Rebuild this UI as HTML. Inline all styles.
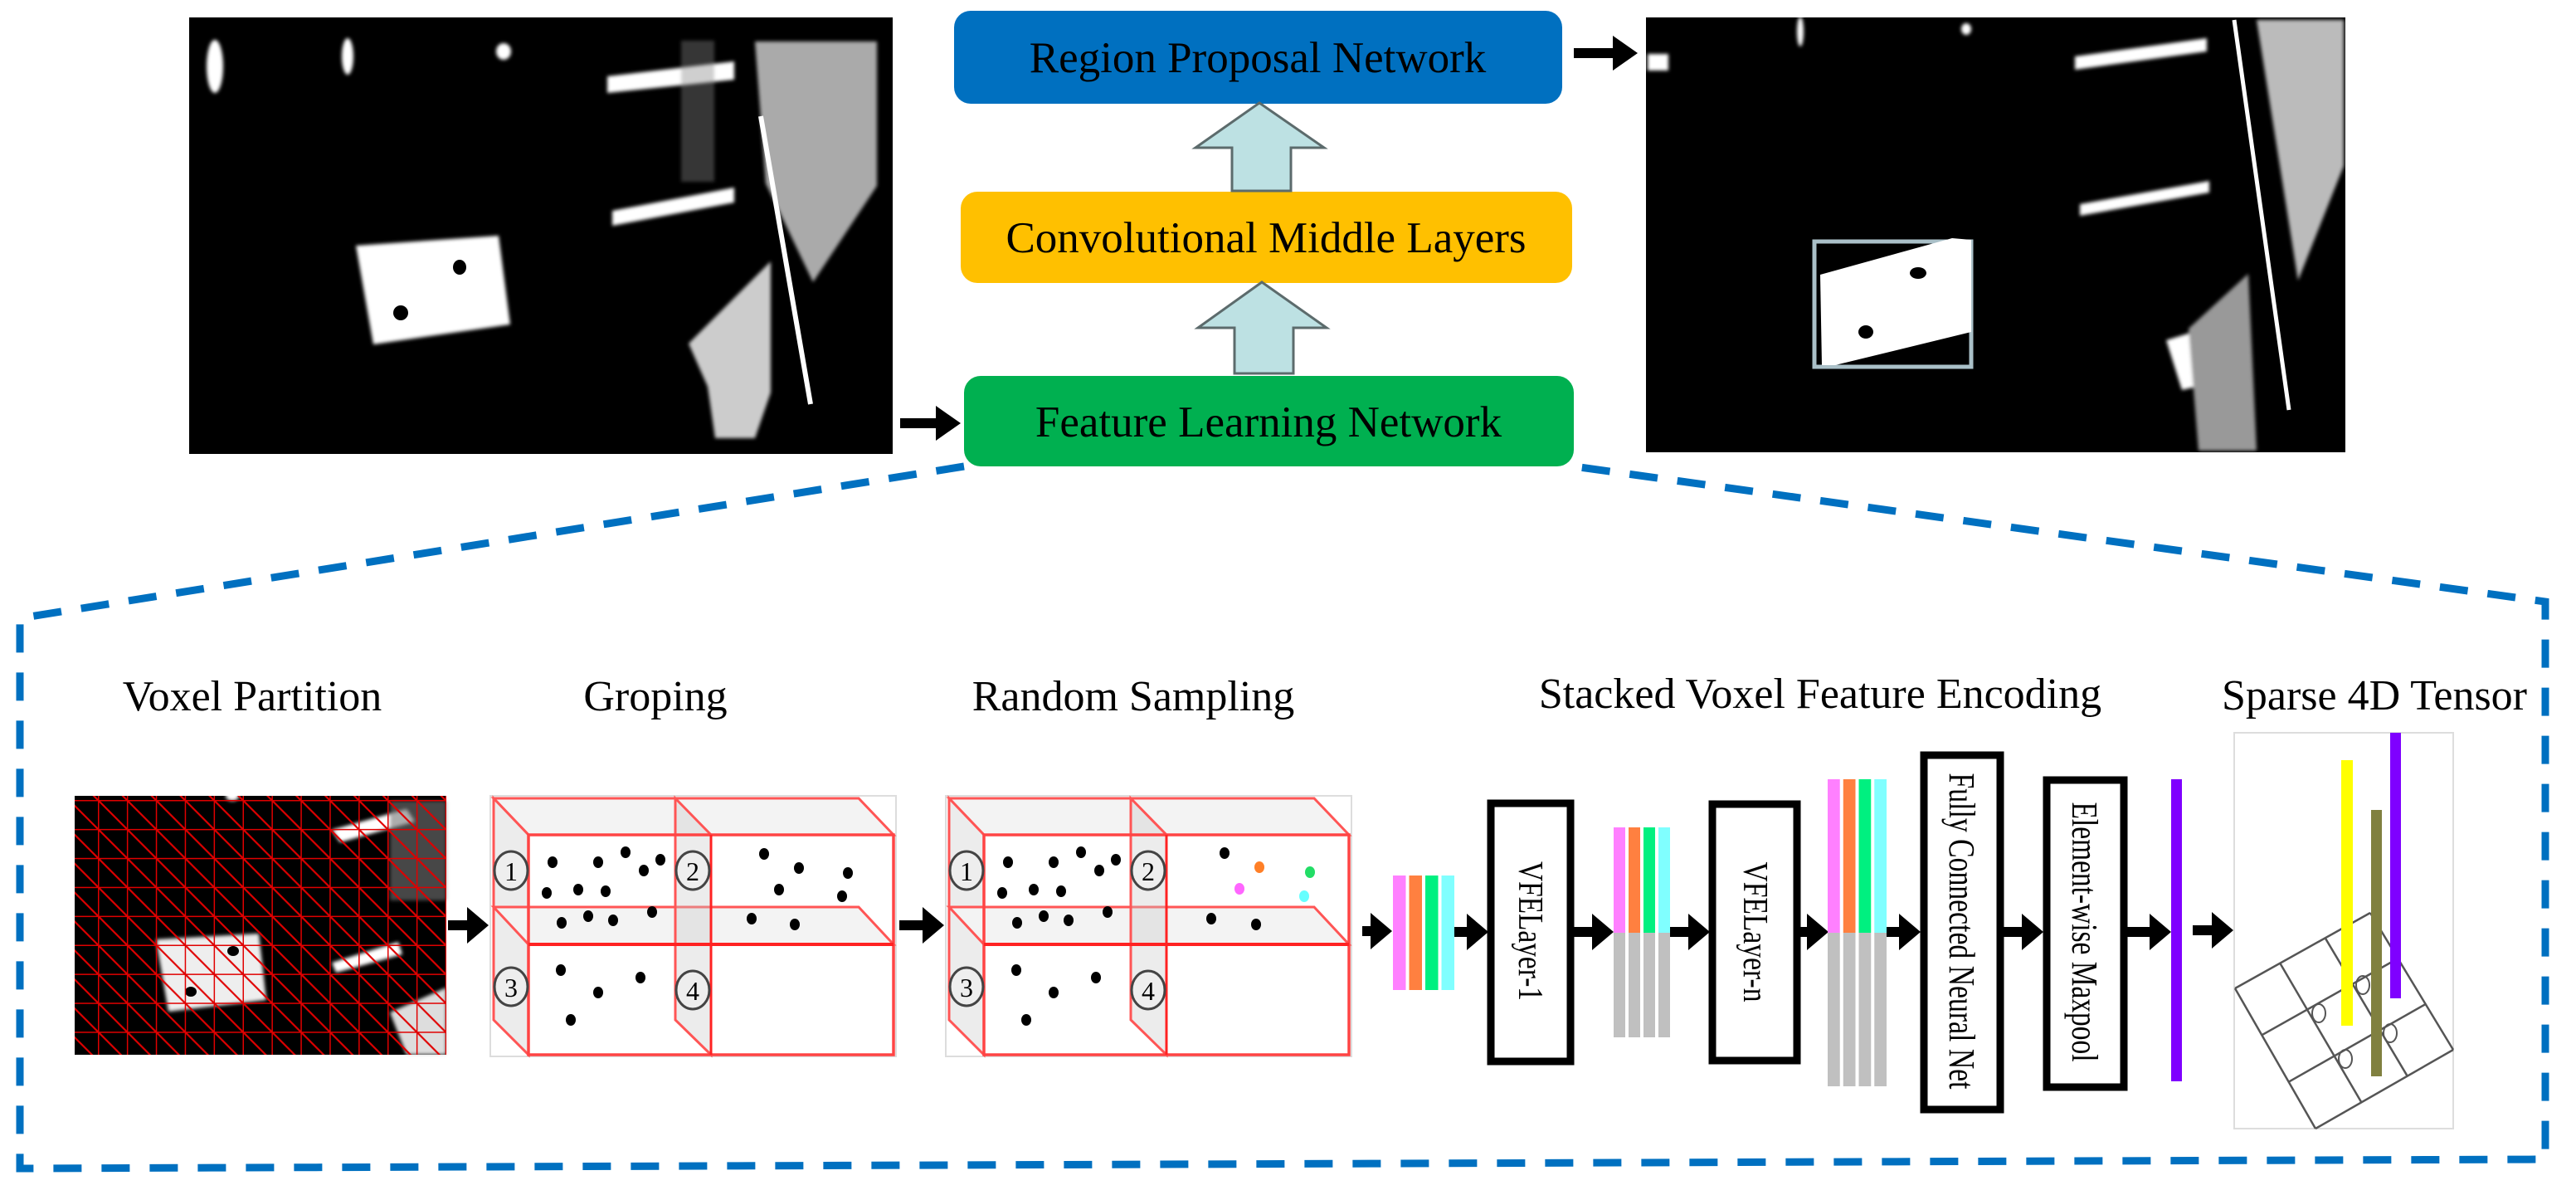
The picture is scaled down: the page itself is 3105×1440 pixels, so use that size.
<!DOCTYPE html>
<html><head><meta charset="utf-8"><style>
html,body{margin:0;padding:0;background:#fff;}
svg{display:block;}
text{font-family:"Liberation Serif",serif;fill:#000;}
</style></head><body>
<svg xmlns="http://www.w3.org/2000/svg" width="3105" height="1440" viewBox="0 0 3105 1440">
<defs>
<filter id="bl"><feGaussianBlur stdDeviation="2"/></filter>
<pattern id="vg" patternUnits="userSpaceOnUse" x="118" y="964" width="34.9" height="34.9">
<line x1="0" y1="0" x2="34.9" y2="34.9" stroke="#e00000" stroke-width="2.2"/>
<line x1="0" y1="0" x2="34.9" y2="0" stroke="#e00000" stroke-width="3"/>
<line x1="0" y1="0" x2="0" y2="34.9" stroke="#e00000" stroke-width="3"/>
</pattern>
</defs>
<rect width="3105" height="1440" fill="#fff"/>

<!-- left image -->
<rect x="228" y="21" width="848" height="526" fill="#000"/>
<g fill="#fff" filter="url(#bl)">
<ellipse cx="259" cy="80" rx="10" ry="32"/>
<ellipse cx="419" cy="68" rx="7" ry="22"/>
<ellipse cx="607" cy="62" rx="9" ry="10"/>
<polygon points="732,92 885,74 885,96 732,112"/>
<polygon points="738,254 885,226 885,244 738,272"/>
<polygon points="429,296 601,284 615,391 450,415"/>
<polygon points="910,50 1057,50 1057,224 980,340 923,221" fill="#aaa"/>
<polygon points="830,414 929,315 929,473 910,528 862,528 853,466" fill="#ccc"/>
<rect x="821" y="49" width="40" height="170" fill="#888" opacity="0.4"/>
</g>
<line x1="917" y1="140" x2="977" y2="487" stroke="#fff" stroke-width="6"/>
<ellipse cx="554" cy="322" rx="8" ry="9" fill="#000"/>
<ellipse cx="483" cy="377" rx="9" ry="9" fill="#000"/>

<!-- right image -->
<rect x="1984" y="21" width="843" height="524" fill="#000"/>
<g fill="#fff" filter="url(#bl)">
<rect x="1986" y="65" width="25" height="20"/>
<ellipse cx="2170" cy="38" rx="4" ry="18"/>
<ellipse cx="2370" cy="35" rx="6" ry="7"/>
<polygon points="2501,68 2660,46 2660,62 2501,84"/>
<polygon points="2507,246 2663,218 2663,232 2507,260"/>
<polygon points="2720,24 2825,24 2825,200 2770,338" fill="#bbb"/>
<polygon points="2611,410 2660,395 2677,459 2630,470"/>
<polygon points="2638,396 2710,330 2720,543 2650,543" fill="#999"/>
</g>
<line x1="2693" y1="24" x2="2759" y2="494" stroke="#fff" stroke-width="5"/>
<rect x="2187" y="291" width="189" height="151" fill="none" stroke="#aac0c8" stroke-width="5"/>
<polygon points="2194,331 2353,287 2376,289 2376,400 2212,440 2196,440" fill="#fff"/>
<ellipse cx="2312" cy="329" rx="10" ry="7" fill="#000"/>
<ellipse cx="2249" cy="400" rx="9" ry="8" fill="#000"/>

<!-- top boxes -->
<rect x="1150" y="13" width="733" height="112" rx="20" fill="#0070C0"/>
<text x="1516" y="87" font-size="53" text-anchor="middle">Region Proposal Network</text>
<rect x="1158" y="231" width="737" height="110" rx="20" fill="#FFC000"/>
<text x="1526" y="304" font-size="53" text-anchor="middle">Convolutional Middle Layers</text>
<rect x="1162" y="453" width="735" height="109" rx="20" fill="#00B050"/>
<text x="1529" y="526" font-size="53" text-anchor="middle">Feature Learning Network</text>

<polygon points="1518,124 1596,178 1556,178 1556,230 1485,230 1485,178 1441,178" fill="#BDE1E3" stroke="#5c6b6c" stroke-width="3"/>
<polygon points="1521,340 1599,395 1559,395 1559,450 1488,450 1488,395 1444,395" fill="#BDE1E3" stroke="#5c6b6c" stroke-width="3"/>

<g fill="#000">
<rect x="1085" y="504" width="45" height="12"/><polygon points="1128,489 1158,510 1128,531"/>
<rect x="1897" y="58" width="48" height="12"/><polygon points="1944,43 1974,64 1944,85"/>
</g>

<!-- dashed outline -->
<polyline points="1162,562 24,745 24,1408 3068,1397 3068,725 1897,562" fill="none" stroke="#0070C0" stroke-width="9" stroke-dasharray="34 24"/>

<!-- labels -->
<text x="304" y="856" font-size="52" text-anchor="middle">Voxel Partition</text>
<text x="790" y="856" font-size="52" text-anchor="middle">Groping</text>
<text x="1366" y="856" font-size="52" text-anchor="middle">Random Sampling</text>
<text x="2194" y="853" font-size="52" text-anchor="middle">Stacked Voxel Feature Encoding</text>
<text x="2862" y="855" font-size="52" text-anchor="middle">Sparse 4D Tensor</text>

<!-- voxel image -->
<rect x="90" y="959" width="448" height="312" fill="#000"/>
<g fill="#fff" filter="url(#bl)">
<polygon points="188,1132 312,1125 321,1205 203,1219" fill="#eee"/>
<polygon points="400,1000 490,975 500,990 410,1015"/>
<polygon points="400,1160 480,1135 485,1150 405,1172"/>
<polygon points="470,1220 538,1190 538,1271 490,1271" fill="#ddd"/>
<rect x="470" y="965" width="68" height="120" fill="#777" opacity="0.6"/>
<ellipse cx="280" cy="959" rx="8" ry="6"/>
</g>
<ellipse cx="281" cy="1146" rx="7" ry="6" fill="#000"/>
<ellipse cx="230" cy="1195" rx="7" ry="6" fill="#000"/>
<rect x="90" y="959" width="448" height="312" fill="url(#vg)"/>

<!-- cube 1 -->
<g>
<rect x="591" y="959" width="489" height="314" fill="#fff" stroke="#ddd" stroke-width="2"/>
<polygon points="595,962 1035,962 1077,1006 637,1006" fill="#f3f3f3" stroke="#f55" stroke-width="3"/>
<polygon points="595,962 637,1006 637,1271 595,1229" fill="#ececec" stroke="#f55" stroke-width="3"/>
<polygon points="595,1093 1035,1093 1077,1138 637,1138" fill="#f3f3f3" stroke="#f55" stroke-width="3"/>
<polygon points="814,962 857,1006 857,1271 814,1229" fill="rgba(200,200,200,0.35)" stroke="#f55" stroke-width="3"/>
<rect x="637" y="1006" width="440" height="265" fill="none" stroke="#f44" stroke-width="3.5"/>
<line x1="637" y1="1138" x2="1077" y2="1138" stroke="#f22" stroke-width="4"/>
<line x1="857" y1="1006" x2="857" y2="1271" stroke="#f22" stroke-width="3"/>
<g fill="#eee" stroke="#444" stroke-width="3">
<ellipse cx="616" cy="1049" rx="20" ry="23"/><ellipse cx="835" cy="1049" rx="20" ry="23"/>
<ellipse cx="616" cy="1189" rx="20" ry="23"/><ellipse cx="835" cy="1193" rx="20" ry="23"/>
</g>
<g font-size="32" text-anchor="middle" style="font-family:'Liberation Sans',sans-serif">
<text x="616" y="1061" fill="#333">1</text><text x="835" y="1061" fill="#333">2</text>
<text x="616" y="1201" fill="#333">3</text><text x="835" y="1205" fill="#333">4</text>
</g>
</g>
<!-- cube 2 -->
<g transform="translate(549,0)">
<rect x="591" y="959" width="489" height="314" fill="#fff" stroke="#ddd" stroke-width="2"/>
<polygon points="595,962 1035,962 1077,1006 637,1006" fill="#f3f3f3" stroke="#f55" stroke-width="3"/>
<polygon points="595,962 637,1006 637,1271 595,1229" fill="#ececec" stroke="#f55" stroke-width="3"/>
<polygon points="595,1093 1035,1093 1077,1138 637,1138" fill="#f3f3f3" stroke="#f55" stroke-width="3"/>
<polygon points="814,962 857,1006 857,1271 814,1229" fill="rgba(200,200,200,0.35)" stroke="#f55" stroke-width="3"/>
<rect x="637" y="1006" width="440" height="265" fill="none" stroke="#f44" stroke-width="3.5"/>
<line x1="637" y1="1138" x2="1077" y2="1138" stroke="#f22" stroke-width="4"/>
<line x1="857" y1="1006" x2="857" y2="1271" stroke="#f22" stroke-width="3"/>
<g fill="#eee" stroke="#444" stroke-width="3">
<ellipse cx="616" cy="1049" rx="20" ry="23"/><ellipse cx="835" cy="1049" rx="20" ry="23"/>
<ellipse cx="616" cy="1189" rx="20" ry="23"/><ellipse cx="835" cy="1193" rx="20" ry="23"/>
</g>
<g font-size="32" text-anchor="middle" style="font-family:'Liberation Sans',sans-serif">
<text x="616" y="1061" fill="#333">1</text><text x="835" y="1061" fill="#333">2</text>
<text x="616" y="1201" fill="#333">3</text><text x="835" y="1205" fill="#333">4</text>
</g>
</g>

<!-- dots -->
<g fill="#000">
<ellipse cx="666" cy="1039" rx="6" ry="7"/><ellipse cx="721" cy="1039" rx="6" ry="7"/><ellipse cx="754" cy="1027" rx="6" ry="7"/><ellipse cx="796" cy="1036" rx="6" ry="7"/><ellipse cx="776" cy="1049" rx="6" ry="7"/><ellipse cx="659" cy="1076" rx="6" ry="7"/><ellipse cx="697" cy="1072" rx="6" ry="7"/><ellipse cx="730" cy="1074" rx="6" ry="7"/><ellipse cx="677" cy="1112" rx="6" ry="7"/><ellipse cx="709" cy="1104" rx="6" ry="7"/><ellipse cx="739" cy="1109" rx="6" ry="7"/><ellipse cx="786" cy="1099" rx="6" ry="7"/><ellipse cx="676" cy="1169" rx="6" ry="7"/><ellipse cx="721" cy="1196" rx="6" ry="7"/><ellipse cx="772" cy="1178" rx="6" ry="7"/><ellipse cx="688" cy="1229" rx="6" ry="7"/>
<ellipse cx="921" cy="1029" rx="6" ry="7"/><ellipse cx="963" cy="1046" rx="6" ry="7"/><ellipse cx="1022" cy="1052" rx="6" ry="7"/><ellipse cx="939" cy="1072" rx="6" ry="7"/><ellipse cx="1015" cy="1080" rx="6" ry="7"/><ellipse cx="906" cy="1107" rx="6" ry="7"/><ellipse cx="958" cy="1114" rx="6" ry="7"/>
<g transform="translate(549,0)">
<ellipse cx="666" cy="1039" rx="6" ry="7"/><ellipse cx="721" cy="1039" rx="6" ry="7"/><ellipse cx="754" cy="1027" rx="6" ry="7"/><ellipse cx="796" cy="1036" rx="6" ry="7"/><ellipse cx="776" cy="1049" rx="6" ry="7"/><ellipse cx="659" cy="1076" rx="6" ry="7"/><ellipse cx="697" cy="1072" rx="6" ry="7"/><ellipse cx="730" cy="1074" rx="6" ry="7"/><ellipse cx="677" cy="1112" rx="6" ry="7"/><ellipse cx="709" cy="1104" rx="6" ry="7"/><ellipse cx="739" cy="1109" rx="6" ry="7"/><ellipse cx="786" cy="1099" rx="6" ry="7"/><ellipse cx="676" cy="1169" rx="6" ry="7"/><ellipse cx="721" cy="1196" rx="6" ry="7"/><ellipse cx="772" cy="1178" rx="6" ry="7"/><ellipse cx="688" cy="1229" rx="6" ry="7"/>
</g>
<ellipse cx="1476" cy="1028" rx="6" ry="7"/>
<ellipse cx="1518" cy="1045" rx="6" ry="7" fill="#ff7f27"/>
<ellipse cx="1579" cy="1051" rx="6" ry="7" fill="#22dd66"/>
<ellipse cx="1494" cy="1071" rx="6" ry="7" fill="#ff66ff"/>
<ellipse cx="1572" cy="1080" rx="6" ry="7" fill="#66ffff"/>
<ellipse cx="1460" cy="1107" rx="6" ry="7"/><ellipse cx="1514" cy="1114" rx="6" ry="7"/>
</g>

<!-- arrows lower -->
<g fill="#000">
<polygon points="540,1109 563,1109 563,1093 589,1115 563,1137 563,1121 540,1121"/>
<polygon points="1084,1109 1112,1109 1112,1093 1138,1115 1112,1137 1112,1121 1084,1121"/>
<polygon points="1642,1116 1652,1116 1652,1100 1678,1122 1652,1144 1652,1128 1642,1128"/>
<polygon points="1753,1117 1768,1117 1768,1101 1794,1123 1768,1145 1768,1129 1753,1129"/>
<polygon points="1897,1117 1919,1117 1919,1101 1945,1123 1919,1145 1919,1129 1897,1129"/>
<polygon points="2013,1117 2035,1117 2035,1101 2061,1123 2035,1145 2035,1129 2013,1129"/>
<polygon points="2170,1117 2178,1117 2178,1101 2204,1123 2178,1145 2178,1129 2170,1129"/>
<polygon points="2274,1117 2289,1117 2289,1101 2315,1123 2289,1145 2289,1129 2274,1129"/>
<polygon points="2415,1117 2437,1117 2437,1101 2463,1123 2437,1145 2437,1129 2415,1129"/>
<polygon points="2564,1117 2591,1117 2591,1101 2617,1123 2591,1145 2591,1129 2564,1129"/>
<polygon points="2643,1115 2666,1115 2666,1099 2692,1121 2666,1143 2666,1127 2643,1127"/>
</g>

<!-- bars -->
<rect x="1679" y="1055" width="15.5" height="138" fill="#FF80FF"/>
<rect x="1698.5" y="1055" width="15.5" height="138" fill="#FF8040"/>
<rect x="1718" y="1055" width="15.5" height="138" fill="#00F080"/>
<rect x="1737.5" y="1055" width="15.5" height="138" fill="#80FFFF"/>

<rect x="1945" y="997" width="14" height="127" fill="#FF80FF"/>
<rect x="1963" y="997" width="14" height="127" fill="#FF8040"/>
<rect x="1981" y="997" width="14" height="127" fill="#00F080"/>
<rect x="1999" y="997" width="14" height="127" fill="#80FFFF"/>
<rect x="1945" y="1124" width="14" height="126" fill="#c0c0c0"/>
<rect x="1963" y="1124" width="14" height="126" fill="#c0c0c0"/>
<rect x="1981" y="1124" width="14" height="126" fill="#c0c0c0"/>
<rect x="1999" y="1124" width="14" height="126" fill="#c0c0c0"/>

<rect x="2203" y="939" width="14.75" height="185" fill="#FF80FF"/>
<rect x="2221.75" y="939" width="14.75" height="185" fill="#FF8040"/>
<rect x="2240.5" y="939" width="14.75" height="185" fill="#00F080"/>
<rect x="2259.25" y="939" width="14.75" height="185" fill="#80FFFF"/>
<rect x="2203" y="1124" width="14.75" height="185" fill="#c0c0c0"/>
<rect x="2221.75" y="1124" width="14.75" height="185" fill="#c0c0c0"/>
<rect x="2240.5" y="1124" width="14.75" height="185" fill="#c0c0c0"/>
<rect x="2259.25" y="1124" width="14.75" height="185" fill="#c0c0c0"/>

<!-- boxes -->
<g fill="#fff" stroke="#000" stroke-width="9">
<rect x="1797" y="968" width="96" height="311"/>
<rect x="2064" y="969" width="102" height="309"/>
<rect x="2319" y="910" width="92" height="427"/>
<rect x="2467" y="940" width="93" height="370"/>
</g>
<text font-size="42" transform="translate(1831,1122) rotate(90)" text-anchor="middle" textLength="168" lengthAdjust="spacingAndGlyphs">VFELayer-1</text>
<text font-size="42" transform="translate(2102,1123) rotate(90)" text-anchor="middle" textLength="169" lengthAdjust="spacingAndGlyphs">VFELayer-n</text>
<text font-size="44" transform="translate(2350,1122) rotate(90)" text-anchor="middle" textLength="381" lengthAdjust="spacingAndGlyphs">Fully Connected Neural Net</text>
<text font-size="44" transform="translate(2498,1123) rotate(90)" text-anchor="middle" textLength="313" lengthAdjust="spacingAndGlyphs">Element-wise Maxpool</text>
<rect x="2617" y="939" width="13" height="364" fill="#7F00FF"/>

<!-- sparse tensor -->
<rect x="2693" y="883" width="264" height="477" fill="#fff" stroke="#ddd" stroke-width="2"/>
<g stroke="#555" stroke-width="2.5" fill="none">
<line x1="2694" y1="1191" x2="2791" y2="1360"/>
<line x1="2748.3" y1="1160.7" x2="2846.3" y2="1328.3"/>
<line x1="2802.7" y1="1130.3" x2="2901.7" y2="1296.7"/>
<line x1="2857" y1="1100" x2="2957" y2="1265"/>
<line x1="2694" y1="1191" x2="2857" y2="1100"/>
<line x1="2726.3" y1="1247.3" x2="2890.3" y2="1155"/>
<line x1="2758.7" y1="1303.7" x2="2923.7" y2="1210"/>
<line x1="2791" y1="1360" x2="2957" y2="1265"/>
</g>
<g fill="none" stroke="#555" stroke-width="2">
<ellipse cx="2795" cy="1221" rx="8" ry="11"/><ellipse cx="2848" cy="1187" rx="8" ry="11"/>
<ellipse cx="2827" cy="1276" rx="8" ry="11"/><ellipse cx="2881" cy="1245" rx="8" ry="11"/>
</g>
<rect x="2822" y="916" width="14" height="320" fill="#FFFF00"/>
<rect x="2858" y="976" width="13" height="321" fill="#808040"/>
<rect x="2881" y="883" width="13" height="320" fill="#7F00FF"/>
</svg>
</body></html>
